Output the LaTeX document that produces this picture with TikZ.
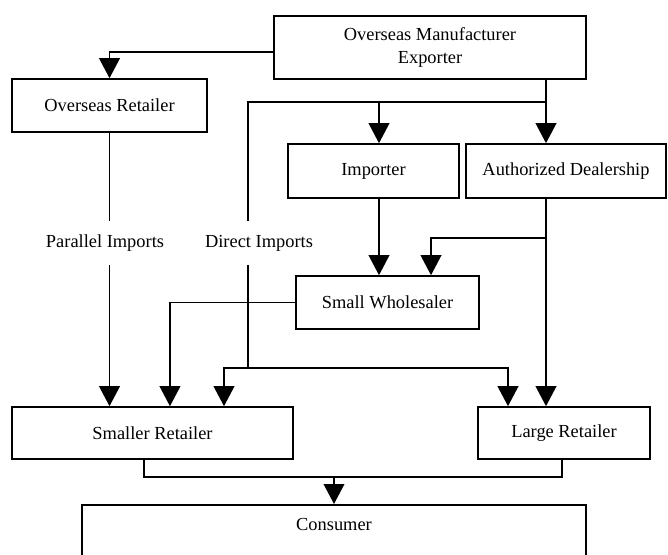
\documentclass[tikz,border=0pt]{standalone}
\usepackage{fontspec}
\setmainfont{Liberation Serif}
\usetikzlibrary{arrows.meta, positioning}

\begin{document}
\begin{tikzpicture}[x=0.75pt, y=-0.75pt, line width=1.2pt,
	box/.style={draw, rectangle, inner sep=2pt, font=\fontsize{13.8}{17.25}\selectfont},
	tag/.style={inner sep=0pt, minimum height=31.5pt, font=\fontsize{13.8}{17.25}\selectfont},
	>={Triangle[length=15pt, width=15.5pt]}]
	\useasboundingbox (0,0) rectangle (668,554);
	\clip (0,0) rectangle (668,554);
	\node[box, minimum width=234pt, minimum height=47.25pt, align=center] (maker) at (430,47.5) {Overseas Manufacturer\\Exporter};
	\node[box, minimum width=146.25pt, minimum height=39.75pt] (osret) at (109.5,105.5) {Overseas Retailer};
	\node[box, minimum width=128.25pt, minimum height=40.5pt] (importer) at (373.5,171) {Importer};
	\node[box, minimum width=150pt, minimum height=40.5pt] (dealer) at (566,171) {Authorized Dealership};
	\node[box, minimum width=137.25pt, minimum height=39.75pt] (wholesaler) at (387.5,302.5) {Small Wholesaler};
	\node[box, minimum width=210.75pt, minimum height=39pt] (smret) at (152.5,433) {Smaller Retailer};
	\node[box, minimum width=129pt, minimum height=39pt] (lgret) at (564,433) {Large Retailer};
	\node[box, minimum width=378pt, anchor=north, text height=17pt, text depth=40pt] (consumer) at (334,504) {Consumer};
	\node[tag] (pimp) at (105,243) {Parallel Imports};
	\node[tag] (dimp) at (259,243) {Direct Imports};
	\coordinate (split) at (546,102);
	\coordinate (dsplit) at (248,102);
	\coordinate (toimp) at (379,102);
	\coordinate (dealbend) at (546,238);
	\coordinate (towhole) at (431,238);
	\coordinate (dbend) at (248,368);
	\coordinate (dleft) at (224,368);
	\coordinate (dright) at (508,368);
	\coordinate (sout) at (144,477);
	\coordinate (lout) at (562,477);
	\draw[->] ([yshift=-3.4pt]maker.west) -| (osret.north);
	\draw (osret.south) -- (osret.south |- pimp.north);
	\draw[->] (osret.south |- pimp.south) -- (osret.south |- smret.north);
	\draw (maker.south -| split) -- (split) -- (dsplit) -- (dsplit |- dimp.north);
	\draw[->] (split) -- (split |- dealer.north);
	\draw[->] (toimp) -- (toimp |- importer.north);
	\draw[->] (importer.south -| toimp) -- (toimp |- wholesaler.north);
	\draw[->] (dealer.south -| split) -- (split |- lgret.north);
	\draw[->] (dealbend) -- (towhole) -- (towhole |- wholesaler.north);
	\draw[->] (wholesaler.west) -| ([xshift=13.1pt]smret.north);
	\draw (dimp.south -| dsplit) -- (dbend);
	\draw[->] (dbend) -- (dleft) -- (dleft |- smret.north);
	\draw[->] (dbend) -- (dright) -- (dright |- lgret.north);
	\draw (sout |- smret.south) -- (sout) -- (lout) -- (lout |- lgret.south);
	\draw[->] (consumer.north |- sout) -- (consumer.north);
\end{tikzpicture}
\end{document}
